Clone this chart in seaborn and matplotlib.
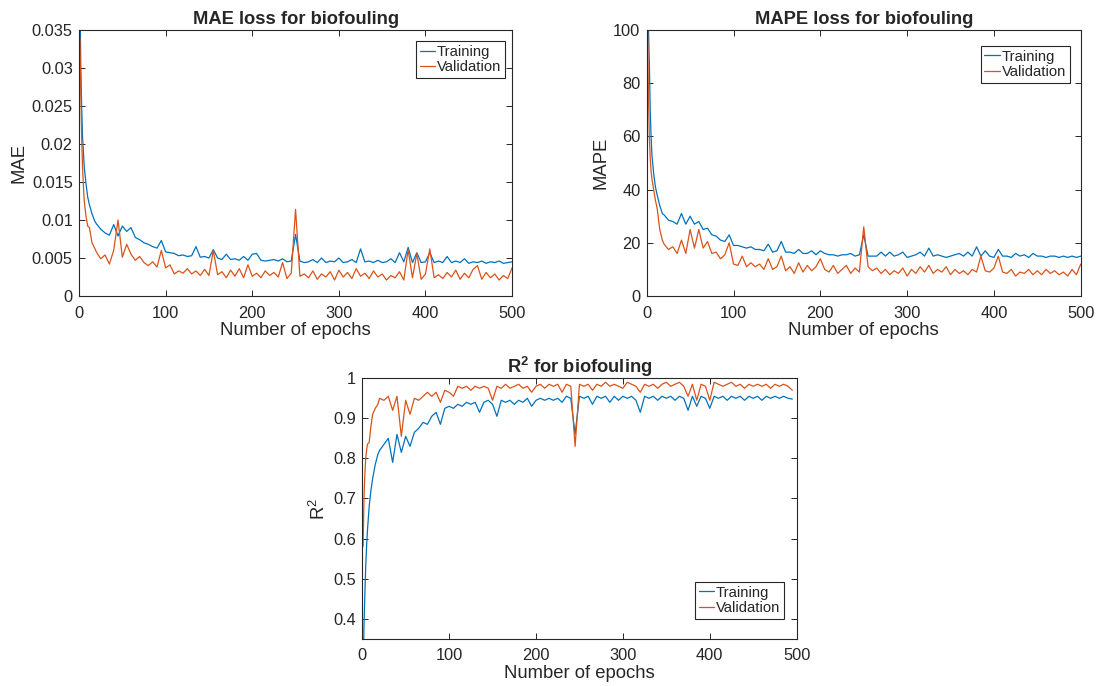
import numpy as np
import pandas as pd
import matplotlib
matplotlib.use("Agg")
from matplotlib import pyplot as plt
import seaborn as sns

epochs = [1, 2, 3, 4, 5, 6, 8, 10, 12, 15, 18, 20] + list(range(25, 501, 5))
r2_epochs = epochs[:-1]

mae_train = [0.040, 0.030, 0.025, 0.021, 0.019, 0.017, 0.0148, 0.0130, 0.0120, 0.0108, 0.0099, 0.0095,
             0.0088, 0.0083, 0.0080, 0.0094, 0.0079, 0.0092, 0.0085, 0.0090, 0.0077, 0.0074,
             0.0070, 0.0068, 0.0065, 0.0063, 0.0073, 0.0058, 0.0057, 0.0056, 0.0053, 0.0054,
             0.0052, 0.0053, 0.0065, 0.0051, 0.0052, 0.0050, 0.0061, 0.0050, 0.0048, 0.0055,
             0.0048, 0.0049, 0.0047, 0.0052, 0.0047, 0.0055, 0.0056, 0.0047, 0.0046, 0.0047,
             0.0048, 0.0046, 0.0049, 0.0045, 0.0046, 0.0081, 0.0046, 0.0044, 0.0045, 0.0048,
             0.0044, 0.0050, 0.0044, 0.0046, 0.0045, 0.0050, 0.0044, 0.0045, 0.0048, 0.0044,
             0.0062, 0.0045, 0.0046, 0.0044, 0.0047, 0.0044, 0.0045, 0.0049, 0.0044, 0.0057,
             0.0045, 0.0064, 0.0044, 0.0057, 0.0044, 0.0045, 0.0057, 0.0044, 0.0046, 0.0044,
             0.0052, 0.0044, 0.0046, 0.0044, 0.0049, 0.0043, 0.0045, 0.0044, 0.0046, 0.0043,
             0.0045, 0.0044, 0.0046, 0.0043, 0.0044, 0.0045]
mae_val = [0.034, 0.027, 0.021, 0.017, 0.0145, 0.0125, 0.0105, 0.0092, 0.0090, 0.0070, 0.0063, 0.0058,
           0.0049, 0.0054, 0.0042, 0.0060, 0.0100, 0.0051, 0.0068, 0.0055, 0.0047, 0.0052,
           0.0044, 0.0040, 0.0045, 0.0038, 0.0060, 0.0037, 0.0041, 0.0029, 0.0033, 0.0030,
           0.0036, 0.0029, 0.0033, 0.0027, 0.0035, 0.0027, 0.0060, 0.0028, 0.0032, 0.0024,
           0.0034, 0.0026, 0.0036, 0.0024, 0.0041, 0.0026, 0.0030, 0.0024, 0.0033, 0.0027,
           0.0031, 0.0025, 0.0044, 0.0023, 0.0030, 0.0114, 0.0026, 0.0029, 0.0024, 0.0033,
           0.0022, 0.0029, 0.0025, 0.0032, 0.0021, 0.0034, 0.0025, 0.0031, 0.0023, 0.0036,
           0.0026, 0.0030, 0.0023, 0.0033, 0.0025, 0.0029, 0.0021, 0.0027, 0.0024, 0.0032,
           0.0021, 0.0061, 0.0024, 0.0056, 0.0022, 0.0029, 0.0062, 0.0024, 0.0028, 0.0023,
           0.0031, 0.0025, 0.0034, 0.0022, 0.0030, 0.0024, 0.0035, 0.0040, 0.0022, 0.0031,
           0.0024, 0.0029, 0.0021, 0.0027, 0.0023, 0.0037]

mape_train = [130, 100, 88, 70, 60, 53, 46, 41, 38, 34, 31, 30.5,
              28.5, 28, 27, 31, 27, 30, 27, 28, 25, 25.5,
              23, 22.5, 21, 20.5, 23, 19, 19, 18.5, 18, 18.5,
              17.5, 17.5, 17, 19.5, 16.5, 17, 20.5, 16.5, 16.5, 16,
              17.5, 16, 16, 17, 15.5, 17, 16, 15.5, 15.5, 15,
              15.5, 15.5, 16, 15, 15.5, 23, 15, 15, 15, 16.5,
              15, 16.5, 15, 15.5, 16.5, 14.5, 15, 15.5, 16.5, 15,
              18, 15, 15.5, 15, 14.5, 15, 15.5, 16, 15, 16.5,
              15, 18.5, 15, 17, 15, 14.5, 17.5, 15, 15, 14.5,
              16, 15, 15.5, 14.5, 16, 15, 15, 14.5, 15, 15,
              14.5, 15, 14.5, 15, 14.5, 15]
mape_val = [100, 75, 60, 52, 47, 44, 40, 36, 33, 25, 21, 19.5,
            17.5, 18.5, 16, 21, 16, 25, 18, 25, 18, 20.5,
            16, 16.5, 14, 15.5, 20, 12, 11.5, 15, 11, 12.5,
            11, 12, 10, 14, 10, 11, 15, 9.5, 11, 8.5,
            12.5, 9, 11.5, 9.5, 11, 14, 10, 9, 11.5, 8.5,
            10, 11.5, 8.5, 10.5, 9, 26, 11, 9.5, 10.5, 8.5,
            10, 8, 9.5, 8.5, 10.5, 7.5, 10, 8.5, 11, 9,
            11.5, 8.5, 10, 9, 11, 8, 10, 8.5, 9.5, 8,
            10, 9, 15, 9.5, 9, 10.5, 15, 9, 8.5, 10,
            7.5, 9, 8.5, 10, 8, 9.5, 8, 10, 8.5, 9.5,
            8, 9, 7.5, 10, 8, 12]

r2_train = [0.25, 0.38, 0.46, 0.53, 0.58, 0.62, 0.68, 0.72, 0.75, 0.785, 0.81, 0.82,
            0.835, 0.85, 0.79, 0.86, 0.815, 0.855, 0.83, 0.865, 0.875, 0.89,
            0.885, 0.905, 0.915, 0.885, 0.925, 0.93, 0.925, 0.935, 0.93, 0.94,
            0.935, 0.94, 0.915, 0.94, 0.945, 0.935, 0.905, 0.945, 0.94, 0.945,
            0.935, 0.945, 0.94, 0.95, 0.93, 0.945, 0.95, 0.945, 0.95, 0.945,
            0.95, 0.94, 0.955, 0.95, 0.86, 0.955, 0.95, 0.955, 0.935, 0.955,
            0.95, 0.955, 0.94, 0.955, 0.945, 0.955, 0.95, 0.955, 0.945, 0.915,
            0.955, 0.95, 0.955, 0.945, 0.955, 0.95, 0.955, 0.945, 0.955, 0.95,
            0.92, 0.955, 0.93, 0.955, 0.95, 0.925, 0.955, 0.95, 0.955, 0.945,
            0.955, 0.95, 0.955, 0.945, 0.955, 0.95, 0.955, 0.945, 0.955, 0.95,
            0.955, 0.95, 0.955, 0.95, 0.948]
r2_val = [0.58, 0.70, 0.76, 0.80, 0.82, 0.835, 0.84, 0.88, 0.91, 0.925, 0.935, 0.95,
          0.945, 0.955, 0.92, 0.955, 0.855, 0.945, 0.91, 0.95, 0.945, 0.955,
          0.965, 0.955, 0.965, 0.94, 0.97, 0.965, 0.955, 0.98, 0.975, 0.98,
          0.97, 0.98, 0.975, 0.98, 0.975, 0.945, 0.98, 0.975, 0.985, 0.975,
          0.98, 0.985, 0.975, 0.98, 0.965, 0.98, 0.985, 0.975, 0.985, 0.98,
          0.985, 0.965, 0.985, 0.98, 0.83, 0.985, 0.98, 0.985, 0.97, 0.985,
          0.98, 0.99, 0.98, 0.985, 0.98, 0.975, 0.99, 0.985, 0.98, 0.965,
          0.985, 0.98, 0.985, 0.975, 0.985, 0.99, 0.98, 0.985, 0.99, 0.98,
          0.955, 0.985, 0.945, 0.985, 0.98, 0.945, 0.99, 0.985, 0.98, 0.985,
          0.99, 0.98, 0.985, 0.975, 0.985, 0.98, 0.985, 0.98, 0.985, 0.975,
          0.985, 0.98, 0.985, 0.98, 0.97]

series = ["Training", "Validation"]
colors = {"Training": "#0072BD", "Validation": "#D95319"}

sns.set_style("ticks")
plt.rcParams["font.family"] = ["Liberation Sans", "DejaVu Sans"]
plt.rcParams["mathtext.default"] = "regular"
plt.rcParams["axes.edgecolor"] = "#262626"
plt.rcParams["xtick.color"] = "#262626"
plt.rcParams["ytick.color"] = "#262626"


def long_df(x, tr, va):
    return pd.concat([
        pd.DataFrame({"epoch": x, "value": tr, "series": series[0]}),
        pd.DataFrame({"epoch": x, "value": va, "series": series[1]}),
    ])


def draw(ax, df, ylim, yticks, yticklabels, ylabel, title, leg_anchor, leg_loc):
    sns.lineplot(data=df, x="epoch", y="value", hue="series", palette=colors,
                 linewidth=0.9, ax=ax, estimator=None, sort=False)
    ax.set_xlim(0, 500)
    ax.set_ylim(*ylim)
    ax.set_xticks([0, 100, 200, 300, 400, 500])
    ax.set_yticks(yticks)
    ax.set_yticklabels(yticklabels)
    ax.tick_params(direction="in", top=True, right=True, length=4.5, width=0.7,
                   labelsize=11.8)
    ax.tick_params(axis="x", pad=7)
    ax.tick_params(axis="y", pad=4.5)
    for s in ax.spines.values():
        s.set_linewidth(0.8)
        s.set_visible(True)
    ax.set_xlabel("Number of epochs", fontsize=13.3, color="#262626", labelpad=1)
    ax.set_ylabel(ylabel, fontsize=13.3, color="#262626", labelpad=3)
    ax.set_title(title, fontsize=13.2, fontweight="bold", pad=4)
    leg = ax.legend(loc=leg_loc, bbox_to_anchor=leg_anchor, fontsize=10.7,
                    fancybox=False, edgecolor="#262626", framealpha=1,
                    handlelength=1.05, handletextpad=0.12, borderpad=0.25,
                    labelspacing=0.1, borderaxespad=0)
    leg.get_frame().set_linewidth(0.8)


fig = plt.figure(figsize=(11.01, 6.86), dpi=100)
ax1 = fig.add_axes([0.0718, 0.5685, 0.3933, 0.3878])
ax2 = fig.add_axes([0.5874, 0.5685, 0.3942, 0.3878])
ax3 = fig.add_axes([0.3290, 0.0690, 0.3946, 0.3796])

draw(ax1, long_df(epochs, mae_train, mae_val), (0, 0.035),
     [0, 0.005, 0.01, 0.015, 0.02, 0.025, 0.03, 0.035],
     ["0", "0.005", "0.01", "0.015", "0.02", "0.025", "0.03", "0.035"],
     "MAE", "MAE loss for biofouling", (0.984, 0.958), "upper right")
draw(ax2, long_df(epochs, mape_train, mape_val), (0, 100),
     [0, 20, 40, 60, 80, 100], ["0", "20", "40", "60", "80", "100"],
     "MAPE", "MAPE loss for biofouling", (0.975, 0.94), "upper right")
draw(ax3, long_df(r2_epochs, r2_train, r2_val), (0.35, 1),
     [0.4, 0.5, 0.6, 0.7, 0.8, 0.9, 1], ["0.4", "0.5", "0.6", "0.7", "0.8", "0.9", "1"],
     "R$^2$", "R$^2$ for biofouling", (0.971, 0.076), "lower right")

fig.savefig("out.png", dpi=100)
